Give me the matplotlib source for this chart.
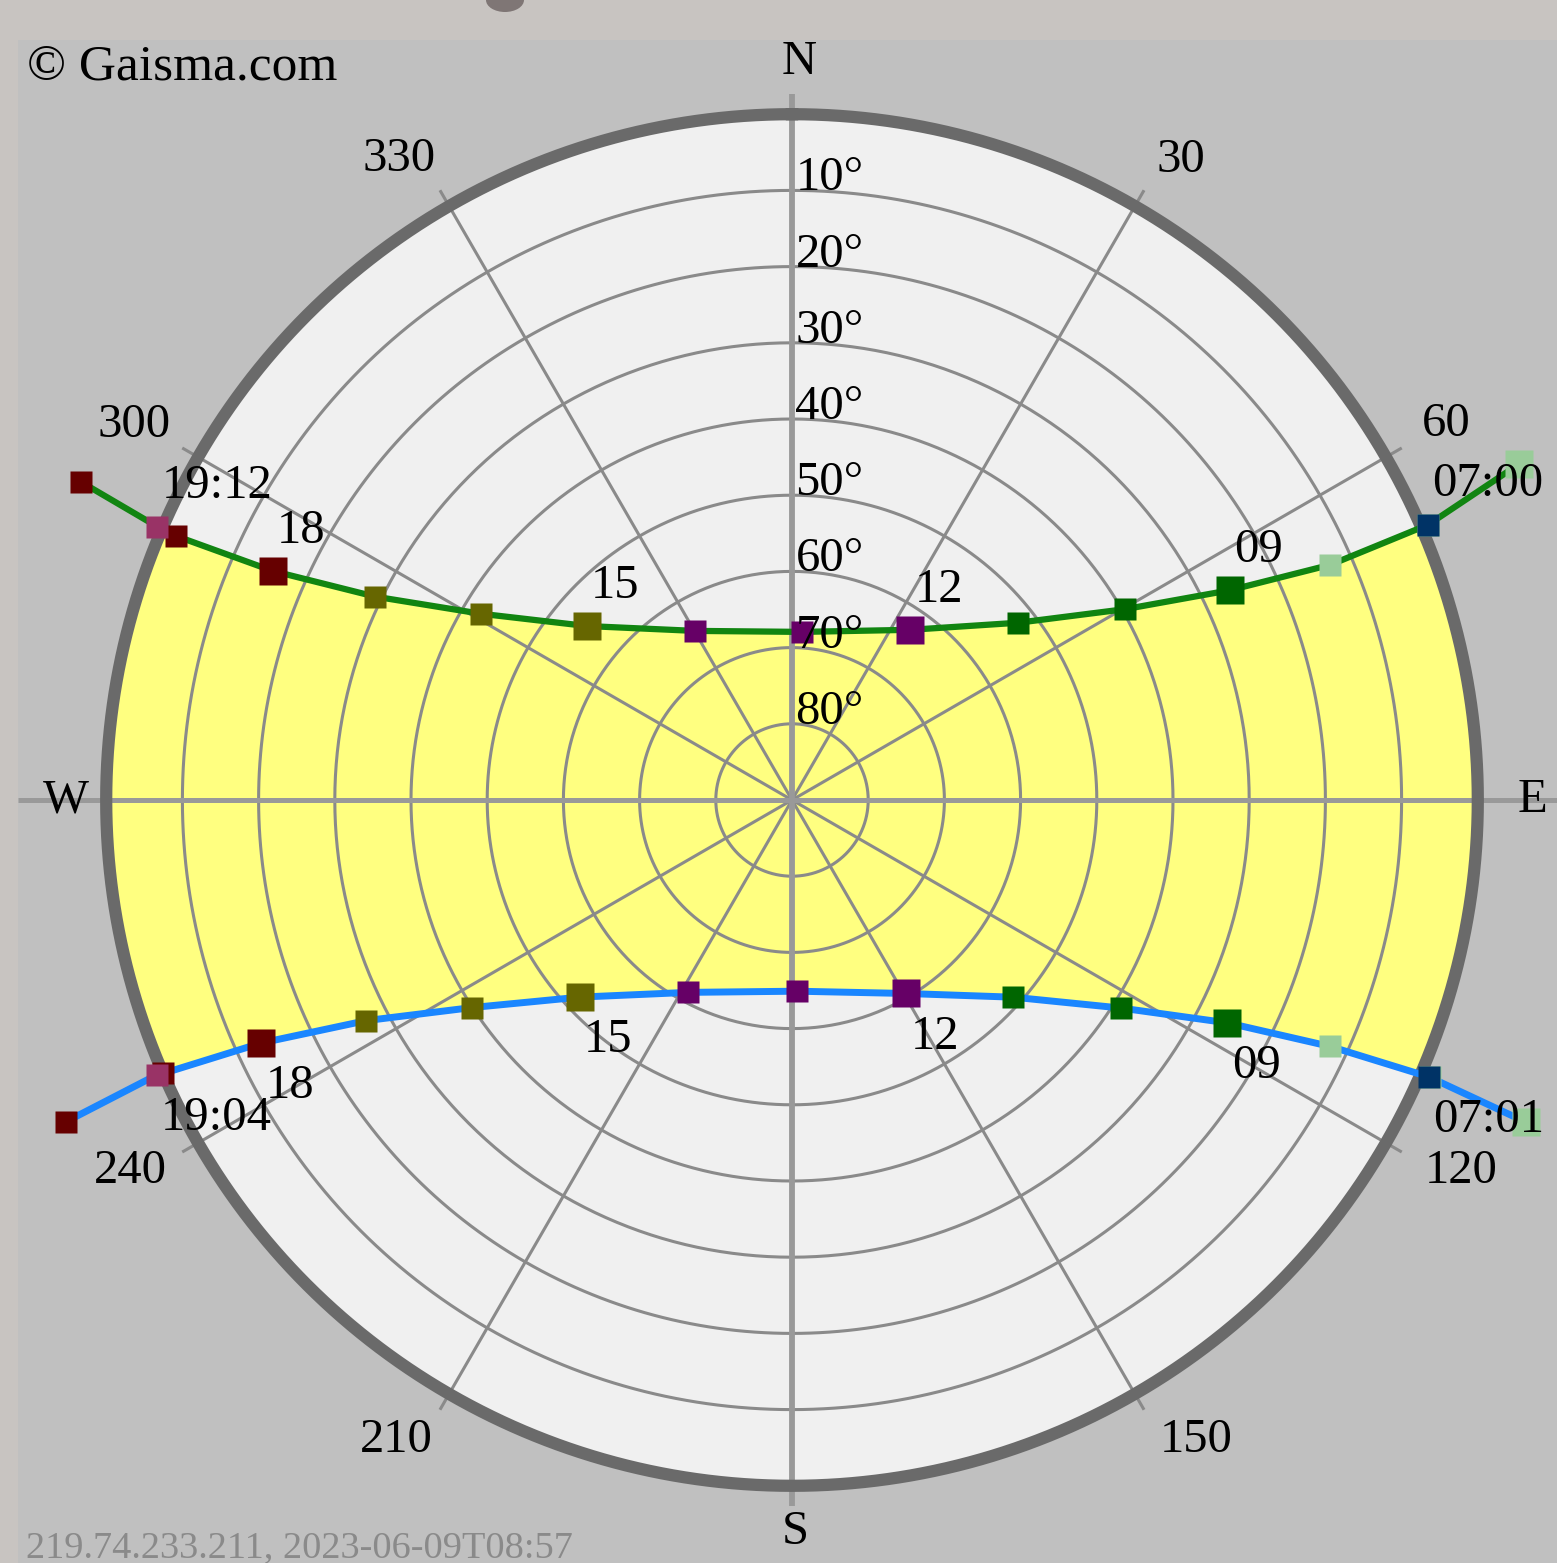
import numpy as np
import matplotlib
matplotlib.use("Agg")
import matplotlib.pyplot as plt
from matplotlib.patches import Rectangle, Ellipse

# ---------------- data (azimuth deg clockwise from N, altitude deg) ----------------
hours = [6, 7, 8, 9, 10, 11, 12, 13, 14, 15, 16, 17, 18, 19, 20]
north_az = [65.2, 66.6, 66.4, 64.4, 60.2, 51.9, 34.8, 3.4, 330.1, 310.3, 300.9, 296.0, 293.8, 293.2, 294.1]
north_alt = [-15.1, -1.0, 12.9, 26.3, 39.6, 52.3, 62.8, 67.9, 64.4, 54.7, 42.4, 29.1, 15.5, 2.0, -12.2]
south_az = [113.7, 113.5, 114.6, 117.1, 122.3, 131.7, 149.4, 178.5, 208.4, 227.1, 237.0, 242.6, 245.4, 246.5, 246.1]
south_alt = [-15.2, -1.3, 12.3, 25.8, 38.9, 51.1, 60.5, 64.9, 61.3, 52.0, 40.0, 27.1, 13.4, 0.0, -14.2]

# sunrise / sunset events: (time in hours, azimuth, altitude, label)
north_rise = (7.0, 66.6, -1.0, "07:00")
north_set = (19.2, 293.3, -0.7, "19:12")
south_rise = (7.0167, 113.5, -1.1, "07:01")
south_set = (19.067, 246.6, -0.8, "19:04")

hour_colors = {6: "#99cc99", 7: "#99cc99", 8: "#99cc99", 9: "#006600", 10: "#006600", 11: "#006600",
               12: "#660066", 13: "#660066", 14: "#660066", 15: "#666600", 16: "#666600", 17: "#666600",
               18: "#660000", 19: "#660000", 20: "#660000"}
big_hours = [6, 9, 12, 15, 18]
labelled_hours = [9, 12, 15, 18]
rise_color = "#003366"
set_color = "#993366"

ring_alts = [10, 20, 30, 40, 50, 60, 70, 80]
az_grid = [30, 60, 120, 150, 210, 240, 300, 330]
compass = ["N", "E", "S", "W"]
compass_az = [0, 90, 180, 270]

copyright_text = "© Gaisma.com"
stamp_text = "219.74.233.211, 2023-06-09T08:57"

# ---------------- figure ----------------
W, H = 1557, 1563
fig = plt.figure(figsize=(W / 100, H / 100), dpi=100, facecolor="#c8c4c1")
fig.patches.append(Rectangle((18 / W, 0), 1, (H - 40) / H, transform=fig.transFigure,
                             facecolor="#c0c0c0", edgecolor="none", zorder=-5))
# remnant of the page heading above the panel
fig.patches.append(Ellipse((505 / W, 1 - 0 / H), 38 / W, 24 / H, transform=fig.transFigure,
                           facecolor="#7f7675", edgecolor="none", zorder=-4))

FONT = ["Liberation Serif", "DejaVu Serif"]
FS = 35

cx, cy = 792, 800
px_per_unit = 7.62
RMAX = 100
rad = RMAX * px_per_unit
ax = fig.add_axes([(cx - rad) / W, (H - cy - rad) / H, 2 * rad / W, 2 * rad / H], projection="polar")
ax.set_zorder(1)
ax.set_theta_zero_location("N")
ax.set_theta_direction(-1)
ax.set_rlim(0, RMAX)
ax.axis("off")

circ = np.linspace(0, 2 * np.pi, 721)

# inner disc
ax.fill(circ, np.full_like(circ, 90), color="#f0f0f0", zorder=1, lw=0)


def track(hrs, az, alt, rise, sett):
    t = list(hrs) + [rise[0], sett[0]]
    a = list(az) + [rise[1], sett[1]]
    h = list(alt) + [rise[2], sett[2]]
    order = np.argsort(t, kind="stable")
    t = np.array(t)[order]
    a = np.unwrap(np.radians(np.array(a)[order]))
    h = np.array(h)[order]
    return t, a, h


nt, nth, nalt = track(hours, north_az, north_alt, north_rise, north_set)
st, sth, salt = track(hours, south_az, south_alt, south_rise, south_set)

# yellow band between the two paths (above horizon)
nm = (nt >= north_rise[0]) & (nt <= north_set[0])
sm = (st >= south_rise[0]) & (st <= south_set[0])
arc_w = np.radians(np.linspace(north_set[1], south_set[1], 60))
arc_e = np.radians(np.linspace(south_rise[1], north_rise[1], 60))
band_th = np.concatenate([nth[nm] % (2 * np.pi), arc_w, (sth[sm])[::-1], arc_e])
band_r = np.concatenate([90 - nalt[nm], np.full(60, 90.0), (90 - salt[sm])[::-1], np.full(60, 90.0)])
ax.fill(band_th, band_r, color="#ffff80", lw=0, zorder=2)

# altitude rings
for a in ring_alts:
    ax.plot(circ, np.full_like(circ, 90 - a), color="#8a8a8a", lw=2.2, zorder=3)
# azimuth spokes
for a in az_grid:
    t = np.radians(a)
    ax.plot([t, t], [0, 92.4], color="#8a8a8a", lw=2.2, zorder=3, solid_capstyle="butt")
# N-S axis and E-W axis
ax.plot([0, 0], [0, 92.6], color="#999999", lw=4.2, zorder=3, solid_capstyle="butt")
ax.plot([np.pi, np.pi], [0, 92.6], color="#999999", lw=4.2, zorder=3, solid_capstyle="butt")
ax.plot([np.pi / 2, np.pi / 2], [0, 102.0], color="#999999", lw=3.6, zorder=3, clip_on=False, solid_capstyle="butt")
ax.plot([3 * np.pi / 2, 3 * np.pi / 2], [0, 101.6], color="#999999", lw=3.6, zorder=3, clip_on=False, solid_capstyle="butt")

# horizon circle
ax.plot(circ, np.full_like(circ, 90), color="#6a6a6a", lw=8.8, zorder=3.5)

# sun paths
ax.plot(nth, 90 - nalt, color="#118511", lw=4.5, zorder=4, clip_on=False, solid_capstyle="butt")
ax.plot(sth, 90 - salt, color="#1a86ff", lw=5.0, zorder=4, clip_on=False, solid_capstyle="butt")

# hour markers
for az, alt in ((north_az, north_alt), (south_az, south_alt)):
    for hr, a, h in zip(hours, az, alt):
        ms = 20 if hr in big_hours else 15.5
        ax.plot(np.radians(a), 90 - h, "s", ms=ms, color=hour_colors[hr], mec="none",
                zorder=5, clip_on=False)
for ev, col in ((north_rise, rise_color), (south_rise, rise_color), (north_set, set_color), (south_set, set_color)):
    ax.plot(np.radians(ev[1]), 90 - ev[2], "s", ms=16, color=col, mec="none", zorder=6, clip_on=False)

# hour labels
for az, alt, dy in ((north_az, north_alt, 29), (south_az, south_alt, -31)):
    for hr, a, h in zip(hours, az, alt):
        if hr in labelled_hours:
            ax.annotate(f"{hr:02d}", xy=(np.radians(a), 90 - h), xytext=(3, dy), textcoords="offset points",
                        ha="left", va="center", fontsize=FS, family=FONT, zorder=7, annotation_clip=False)
for ev, dy in ((north_rise, 29), (north_set, 29), (south_rise, -31), (south_set, -31)):
    ax.annotate(ev[3], xy=(np.radians(ev[1]), 90 - ev[2]), xytext=(3, dy), textcoords="offset points",
                ha="left", va="center", fontsize=FS, family=FONT, zorder=7, annotation_clip=False)

# altitude ring labels
for a in ring_alts:
    ax.annotate(f"{a}°", xy=(0, 90 - a), xytext=(2.5, 0), textcoords="offset points",
                ha="left", va="baseline", fontsize=FS, family=FONT, zorder=7)

# azimuth labels (angle, radius where each label sits)
az_label_pos = [(31.3, 98.3), (60.1, 99.0), (119.0, 100.4), (147.7, 99.3),
                (211.7, 98.7), (240.7, 99.6), (299.7, 99.4), (328.5, 98.6)]
for a, (pa, pr) in zip(az_grid, az_label_pos):
    ax.text(np.radians(pa), pr, str(a), ha="center", va="center", fontsize=FS, family=FONT,
            zorder=7, clip_on=False)

comp_r = [96.9, 97.2, 96.1, 95.3]
comp_dx = [7, 0, 3, 0]
for lab, a, r, dx in zip(compass, compass_az, comp_r, comp_dx):
    ax.annotate(lab, xy=(np.radians(a), r), xytext=(dx * 0.72, 0), textcoords="offset points",
                ha="center", va="center", fontsize=FS, family=FONT, zorder=7, annotation_clip=False)

fig.text(27 / W, 1 - 80 / H, copyright_text, fontsize=37, family=FONT, ha="left", va="baseline")
fig.text(26 / W, 1 - 1557 / H, stamp_text, fontsize=27.6, family=FONT,
         color="#8a8a8a", ha="left", va="baseline")

fig.savefig("out.png", dpi=100, facecolor=fig.get_facecolor())
